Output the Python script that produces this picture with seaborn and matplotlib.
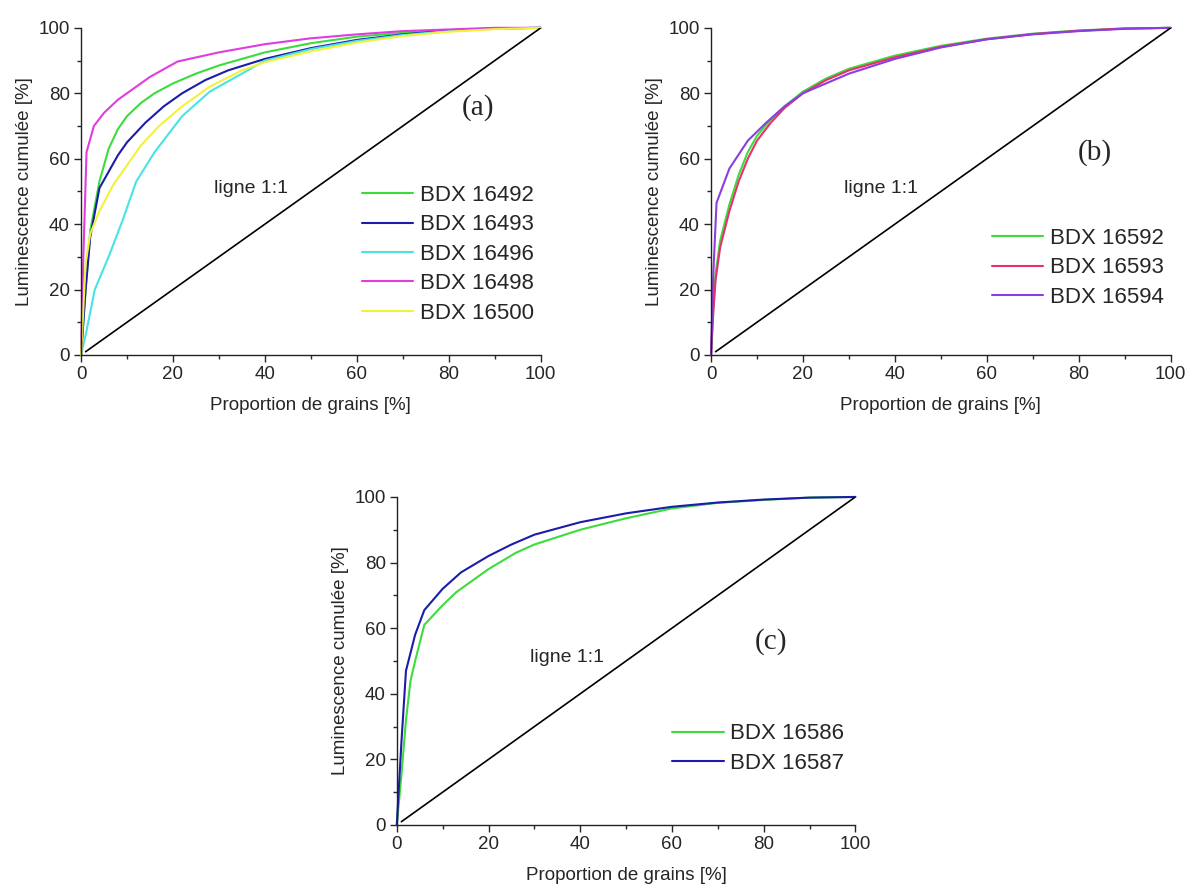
#courbes de luminescence cumulee - trois panneaux (a), (b), (c)
import pandas as pd
import numpy as np
import matplotlib
import matplotlib.pyplot as plt
import seaborn as sns

sns.set_style('ticks')
matplotlib.rcParams['font.family'] = ['Liberation Sans', 'DejaVu Sans']
matplotlib.rcParams['font.size'] = 13.5

# panneau (a)
a_16492_x = [0, 1, 2, 4, 6, 8, 10, 13, 16, 20, 25, 30, 40, 50, 60, 70, 80, 90, 100]
a_16492_y = [0, 20, 38, 53, 63, 69, 73, 77, 80, 83, 86, 88.5, 92.5, 95.3, 97.3, 98.5, 99.3, 99.8, 100]
a_16493_x = [0, 1, 2, 4, 6, 8, 10, 14, 18, 22, 27, 32, 40, 50, 60, 70, 80, 90, 100]
a_16493_y = [0, 20, 36, 51, 56, 61, 65, 71, 76, 80, 84, 87, 90.5, 93.8, 96.3, 98, 99.2, 99.8, 100]
a_16496_x = [0, 1, 3, 6, 9, 12, 16, 22, 28, 35, 40, 50, 60, 70, 80, 90, 100]
a_16496_y = [0, 6, 20, 30, 41, 53, 62, 73, 80.5, 86, 90, 93.5, 96, 97.8, 99, 99.7, 100]
a_16498_x = [0, 0.5, 1.2, 2.8, 5, 8, 10, 15, 21, 30, 40, 50, 60, 70, 80, 90, 100]
a_16498_y = [0, 30, 62, 70, 74, 78, 80, 85, 89.7, 92.5, 95, 96.8, 98, 99, 99.5, 100, 100]
a_16500_x = [0, 1, 2, 4, 7, 10, 13, 17, 22, 28, 35, 40, 50, 60, 70, 80, 90, 100]
a_16500_y = [0, 28, 37, 44, 52, 58, 64, 70, 76, 82, 87, 89.5, 92.8, 95.5, 97.5, 98.8, 99.6, 100]

# panneau (b)
b_16592_x = [0, 0.5, 1, 2, 4, 6, 8, 10, 13, 16, 20, 25, 30, 40, 50, 60, 70, 80, 90, 100]
b_16592_y = [0, 15, 25, 35, 46, 55, 62, 67, 72, 76, 80.5, 84.5, 87.5, 91.5, 94.5, 96.7, 98.2, 99.2, 99.8, 100]
b_16593_x = [0, 0.5, 1, 2, 4, 6, 8, 10, 13, 16, 20, 25, 30, 40, 50, 60, 70, 80, 90, 100]
b_16593_y = [0, 13, 23, 33, 44, 53, 60, 65.5, 71, 75.5, 80, 84, 87, 91, 94.2, 96.5, 98.1, 99.1, 99.8, 100]
b_16594_x = [0, 0.5, 1.2, 4, 8, 12, 16, 20, 25, 30, 40, 50, 60, 70, 80, 90, 100]
b_16594_y = [0, 25, 46.5, 57, 65.5, 71, 76, 80, 83, 86, 90.5, 94, 96.5, 98, 99, 99.7, 100]

# panneau (c)
c_16586_x = [0, 1, 2, 3, 4, 6, 10, 13, 20, 26, 30, 40, 50, 60, 70, 80, 90, 100]
c_16586_y = [0, 15, 32, 44, 50, 61, 67, 71, 78, 83, 85.5, 90, 93.5, 96.5, 98.2, 99.1, 99.8, 100]
c_16587_x = [0, 1, 2, 4, 6, 10, 14, 20, 25, 30, 40, 50, 60, 70, 80, 90, 100]
c_16587_y = [0, 25, 47, 58, 65.5, 72, 77, 82, 85.5, 88.5, 92.3, 95, 97, 98.3, 99.2, 99.8, 100]

# ligne 1:1
diag_x = [1, 100]
diag_y = [1, 100]

panels = [
    dict(rect=[0.0682, 0.6007, 0.387, 0.368],
         series=[('BDX 16492', a_16492_x, a_16492_y), ('BDX 16493', a_16493_x, a_16493_y),
                 ('BDX 16496', a_16496_x, a_16496_y), ('BDX 16498', a_16498_x, a_16498_y),
                 ('BDX 16500', a_16500_x, a_16500_y)],
         colors=['#3ddc3d', '#1c1ca8', '#48e4e4', '#e03ce0', '#f2f23c'],
         tag='(a)', tag_xy=(86.3, 75.5), leg_xy=(0.611, 0.52)),
    dict(rect=[0.5985, 0.6007, 0.387, 0.368],
         series=[('BDX 16592', b_16592_x, b_16592_y), ('BDX 16593', b_16593_x, b_16593_y),
                 ('BDX 16594', b_16594_x, b_16594_y)],
         colors=['#3ddc3d', '#e8306e', '#8a3ee0'],
         tag='(b)', tag_xy=(83.5, 62), leg_xy=(0.611, 0.388)),
    dict(rect=[0.334, 0.072, 0.386, 0.369],
         series=[('BDX 16586', c_16586_x, c_16586_y), ('BDX 16587', c_16587_x, c_16587_y)],
         colors=['#3ddc3d', '#1c1ca8'],
         tag='(c)', tag_xy=(81.5, 55.8), leg_xy=(0.601, 0.31)),
]

fig = plt.figure(figsize=(11.88, 8.89), dpi=100)

for p in panels:
    ax = fig.add_axes(p['rect'])
    # une courbe par echantillon, points dans l'ordre
    for (name, xs, ys), col in zip(p['series'], p['colors']):
        sns.lineplot(x=xs, y=ys, color=col, linewidth=1.5, sort=False, estimator=None,
                     label=name, ax=ax, clip_on=False)
    ax.plot(diag_x, diag_y, color='black', linewidth=1.2)
    ax.text(29, 51, 'ligne 1:1', fontsize=14, ha='left', va='center')
    ax.text(p['tag_xy'][0], p['tag_xy'][1], p['tag'], fontsize=21, ha='center', va='center',
            family=['Liberation Serif', 'DejaVu Serif'])

    ax.set_xlim(0, 100)
    ax.set_ylim(0, 100)
    ax.set_xticks(np.arange(0, 101, 20))
    ax.set_yticks(np.arange(0, 101, 20))
    ax.set_xticks(np.arange(10, 100, 20), minor=True)
    ax.set_yticks(np.arange(10, 100, 20), minor=True)
    ax.tick_params(which='major', direction='out', length=5, width=1, pad=3, labelsize=13.5)
    ax.tick_params(which='minor', direction='out', length=3, width=1)
    for s in ['left', 'bottom']:
        ax.spines[s].set_linewidth(1)
        ax.spines[s].set_color('#222222')
    sns.despine(ax=ax)
    ax.set_xlabel('Proportion de grains [%]', fontsize=13.5, labelpad=10)
    ax.set_ylabel('Luminescence cumulée [%]', fontsize=13.5, labelpad=4)

    ax.legend(loc='upper left', bbox_to_anchor=p['leg_xy'], frameon=False, fontsize=16,
              handlelength=2.3, handletextpad=0.3, labelspacing=0.38, borderpad=0, borderaxespad=0)

plt.savefig('out.png', dpi=100)
